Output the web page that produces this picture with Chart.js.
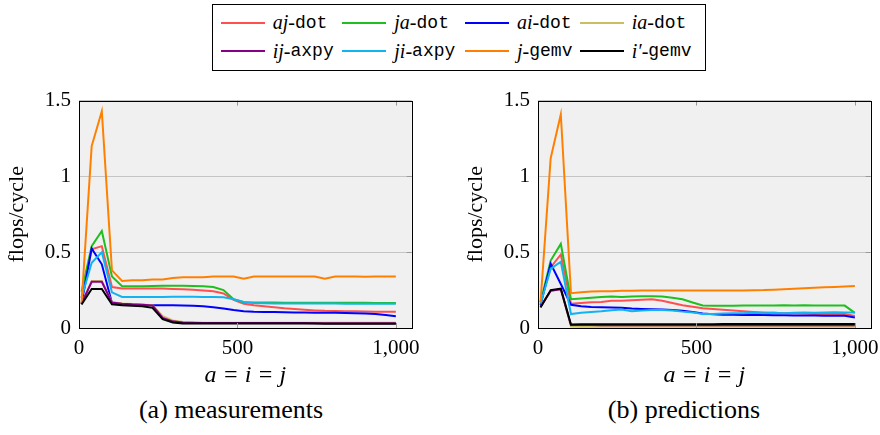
<!DOCTYPE html>
<html>
<head>
<meta charset="utf-8">
<script src="https://cdn.jsdelivr.net/npm/chart.js@4.4.0/dist/chart.umd.min.js"></script>
<style>
  body { margin: 0; background: #fff; width: 880px; height: 435px; position: relative; overflow: hidden; font-family: "Liberation Serif", serif; }
  #legend { position: absolute; left: 212px; top: 4px; width: 494px; height: 67px; border: 1px solid #000; box-sizing: border-box; }
  .item { position: absolute; height: 22px; display: flex; align-items: center; font-size: 20px; white-space: nowrap; }
  .item .swatch { display: inline-block; width: 44px; height: 0; border-top: 2px solid; margin-right: 8px; }
  .item i { font-family: "Liberation Serif", serif; }
  .item code { font-family: "Liberation Mono", monospace; font-size: 18px; }
  canvas { position: absolute; }
  .cap { position: absolute; top: 395px; font-size: 26px; transform: translateX(-50%); white-space: nowrap; }
</style>
</head>
<body>
<div id="legend"></div>
<canvas id="left" width="430" height="310" style="left:0px;top:80px"></canvas>
<canvas id="right" width="430" height="310" style="left:459px;top:80px"></canvas>
<div class="cap" style="left:231px">(a) measurements</div>
<div class="cap" style="left:684px">(b) predictions</div>
<script>
// problem size a = i = j
const sizes = [8, 40, 72, 104, 136, 168, 200, 232, 264, 296, 328, 360, 392, 424, 456, 488,
               520, 552, 584, 616, 648, 680, 712, 744, 776, 808, 840, 872, 904, 936, 968, 1000];

const loopNames = ["aj", "ja", "ai", "ia", "ij", "ji", "j", "i\u2032"];
const kernelNames = ["dot", "dot", "dot", "dot", "axpy", "axpy", "gemv", "gemv"];
const colors = ["#ff5050", "#1fbf1f", "#0000ff", "#cdbd62", "#880088", "#11b4f0", "#ff8000", "#000000"];

const xTicks = [0, 500, 1000];
const xTickLabels = ["0", "500", "1,000"];
const yTicks = [0, 0.5, 1, 1.5];
const yTickLabels = ["0", "0.5", "1", "1.5"];

// (a) measurements, flops/cycle
const mAjDot = [0.20, 0.52, 0.54, 0.27, 0.26, 0.26, 0.26, 0.26, 0.26, 0.258, 0.255, 0.252, 0.248, 0.242, 0.228, 0.185,
                0.16, 0.15, 0.143, 0.137, 0.13, 0.125, 0.12, 0.116, 0.113, 0.112, 0.11, 0.11, 0.109, 0.108, 0.108, 0.108];
const mJaDot = [0.24, 0.54, 0.64, 0.34, 0.275, 0.275, 0.276, 0.277, 0.278, 0.278, 0.278, 0.277, 0.275, 0.27, 0.25, 0.19,
                0.17, 0.168, 0.168, 0.168, 0.167, 0.167, 0.167, 0.167, 0.167, 0.166, 0.166, 0.166, 0.166, 0.165, 0.165, 0.165];
const mAiDot = [0.16, 0.525, 0.42, 0.165, 0.157, 0.153, 0.152, 0.15, 0.15, 0.15, 0.149, 0.147, 0.143, 0.137, 0.128, 0.118,
                0.11, 0.107, 0.106, 0.105, 0.104, 0.103, 0.102, 0.101, 0.1, 0.1, 0.099, 0.098, 0.096, 0.093, 0.085, 0.077];
const mIaDot = [0.16, 0.31, 0.31, 0.17, 0.162, 0.158, 0.155, 0.15, 0.078, 0.05, 0.04, 0.036, 0.035, 0.035, 0.034, 0.034,
                0.034, 0.034, 0.034, 0.034, 0.034, 0.034, 0.034, 0.034, 0.034, 0.034, 0.034, 0.034, 0.034, 0.034, 0.034, 0.034];
const mIjAxpy = [0.16, 0.305, 0.305, 0.168, 0.16, 0.156, 0.154, 0.148, 0.066, 0.044, 0.036, 0.034, 0.033, 0.033, 0.033, 0.033,
                 0.033, 0.033, 0.033, 0.033, 0.033, 0.033, 0.033, 0.032, 0.032, 0.032, 0.032, 0.032, 0.032, 0.032, 0.032, 0.032];
const mJiAxpy = [0.20, 0.43, 0.50, 0.235, 0.205, 0.205, 0.205, 0.205, 0.205, 0.206, 0.206, 0.206, 0.205, 0.205, 0.203, 0.19,
                 0.172, 0.165, 0.163, 0.162, 0.162, 0.162, 0.161, 0.161, 0.161, 0.161, 0.16, 0.16, 0.16, 0.16, 0.16, 0.16];
const mJGemv = [0.16, 1.20, 1.43, 0.38, 0.31, 0.315, 0.315, 0.32, 0.32, 0.33, 0.335, 0.335, 0.335, 0.34, 0.34, 0.34,
                0.325, 0.34, 0.34, 0.34, 0.34, 0.34, 0.34, 0.34, 0.325, 0.34, 0.34, 0.34, 0.338, 0.34, 0.34, 0.34];
const mIpGemv = [0.155, 0.257, 0.257, 0.157, 0.15, 0.147, 0.143, 0.133, 0.058, 0.036, 0.03, 0.029, 0.029, 0.029, 0.029, 0.029,
                 0.029, 0.029, 0.029, 0.029, 0.029, 0.029, 0.029, 0.029, 0.028, 0.028, 0.028, 0.028, 0.028, 0.028, 0.028, 0.028];

// (b) predictions, flops/cycle
const pAjDot = [0.17, 0.40, 0.485, 0.16, 0.165, 0.17, 0.172, 0.18, 0.18, 0.183, 0.187, 0.19, 0.18, 0.165, 0.15, 0.14,
                0.13, 0.125, 0.12, 0.115, 0.11, 0.106, 0.103, 0.1, 0.098, 0.097, 0.095, 0.093, 0.092, 0.092, 0.092, 0.08];
const pJaDot = [0.17, 0.445, 0.555, 0.19, 0.195, 0.2, 0.205, 0.207, 0.205, 0.207, 0.21, 0.21, 0.208, 0.2, 0.19, 0.168,
                0.148, 0.147, 0.147, 0.147, 0.148, 0.148, 0.149, 0.149, 0.15, 0.149, 0.15, 0.149, 0.148, 0.148, 0.148, 0.10];
const pAiDot = [0.15, 0.425, 0.29, 0.153, 0.143, 0.139, 0.137, 0.135, 0.133, 0.128, 0.126, 0.124, 0.122, 0.118, 0.114, 0.106,
                0.095, 0.09, 0.088, 0.087, 0.086, 0.085, 0.085, 0.084, 0.084, 0.083, 0.083, 0.082, 0.081, 0.08, 0.08, 0.07];
const pIaDot = [0.14, 0.245, 0.255, 0.01, 0.009, 0.009, 0.009, 0.009, 0.008, 0.008, 0.008, 0.008, 0.008, 0.008, 0.008, 0.008,
                0.008, 0.008, 0.008, 0.008, 0.008, 0.008, 0.008, 0.008, 0.008, 0.008, 0.008, 0.008, 0.008, 0.008, 0.008, 0.008];
const pIjAxpy = [0.14, 0.245, 0.255, 0.02, 0.019, 0.019, 0.018, 0.018, 0.018, 0.018, 0.018, 0.018, 0.018, 0.018, 0.018, 0.018,
                 0.018, 0.018, 0.018, 0.018, 0.018, 0.018, 0.018, 0.018, 0.018, 0.018, 0.018, 0.018, 0.018, 0.018, 0.018, 0.018];
const pJiAxpy = [0.16, 0.39, 0.437, 0.092, 0.1, 0.105, 0.11, 0.117, 0.122, 0.11, 0.115, 0.118, 0.118, 0.115, 0.108, 0.103,
                 0.093, 0.092, 0.095, 0.097, 0.098, 0.1, 0.098, 0.1, 0.097, 0.1, 0.102, 0.1, 0.103, 0.104, 0.103, 0.103];
const pJGemv = [0.17, 1.12, 1.41, 0.23, 0.236, 0.24, 0.242, 0.243, 0.245, 0.246, 0.247, 0.247, 0.247, 0.247, 0.247, 0.247,
                0.247, 0.247, 0.247, 0.247, 0.248, 0.249, 0.25, 0.253, 0.256, 0.259, 0.262, 0.265, 0.268, 0.271, 0.274, 0.277];
const pIpGemv = [0.135, 0.25, 0.26, 0.023, 0.024, 0.024, 0.024, 0.025, 0.025, 0.025, 0.025, 0.025, 0.025, 0.025, 0.025, 0.025,
                 0.025, 0.025, 0.026, 0.026, 0.026, 0.026, 0.026, 0.026, 0.026, 0.026, 0.026, 0.026, 0.026, 0.026, 0.026, 0.026];

const measured = [mAjDot, mJaDot, mAiDot, mIaDot, mIjAxpy, mJiAxpy, mJGemv, mIpGemv];
const predicted = [pAjDot, pJaDot, pAiDot, pIaDot, pIjAxpy, pJiAxpy, pJGemv, pIpGemv];

// legend (shared by both plots)
const legendCols = [7.7, 129.3, 252, 366.7];
const legendRows = [6.7, 35];
const legend = document.getElementById("legend");
loopNames.forEach((name, i) => {
  const el = document.createElement("div");
  el.className = "item";
  el.style.left = legendCols[i % 4] + "px";
  el.style.top = legendRows[Math.floor(i / 4)] + "px";
  el.innerHTML = `<span class="swatch" style="border-color:${colors[i]}"></span><i>${name}</i>-<code>${kernelNames[i]}</code>`;
  legend.appendChild(el);
});

const serif = "'Liberation Serif', serif";

// grey plot background, black frame and small inner tick marks like pgfplots
const frame = {
  id: "frame",
  beforeDraw(chart) {
    const { ctx, chartArea: a } = chart;
    ctx.save();
    ctx.fillStyle = "#f0f0f0";
    ctx.fillRect(a.left, a.top, a.right - a.left, a.bottom - a.top);
    ctx.restore();
  },
  afterDraw(chart) {
    const { ctx, chartArea: a } = chart;
    const xs = chart.scales.x, ys = chart.scales.y;
    ctx.save();
    ctx.strokeStyle = "#999";
    ctx.lineWidth = 1;
    ctx.beginPath();
    xTicks.slice(1).forEach(v => {
      const px = Math.round(xs.getPixelForValue(v)) + 0.5;
      ctx.moveTo(px, a.top); ctx.lineTo(px, a.top + 5);
      ctx.moveTo(px, a.bottom); ctx.lineTo(px, a.bottom - 5);
    });
    yTicks.slice(1).forEach(v => {
      const py = Math.round(ys.getPixelForValue(v)) + 0.5;
      ctx.moveTo(a.right, py); ctx.lineTo(a.right - 5, py);
    });
    ctx.stroke();
    ctx.strokeStyle = "#000";
    ctx.strokeRect(Math.round(a.left) + 0.5, Math.round(a.top) + 0.5,
                   Math.round(a.right - a.left), Math.round(a.bottom - a.top));
    ctx.restore();
  }
};

function makeChart(id, series) {
  return new Chart(document.getElementById(id), {
    type: "line",
    data: {
      datasets: series.map((vals, i) => ({
        label: loopNames[i] + "-" + kernelNames[i],
        data: sizes.map((x, k) => ({ x: x, y: vals[k] })),
        borderColor: colors[i],
        borderWidth: 2,
        pointRadius: 0,
        tension: 0,
        fill: false,
        order: series.length - i
      }))
    },
    options: {
      responsive: false,
      animation: false,
      events: [],
      layout: { padding: { top: 6, right: 18.3, left: 0, bottom: 0 } },
      plugins: { legend: { display: false }, tooltip: { enabled: false } },
      scales: {
        x: {
          type: "linear", min: 0, max: 1050,
          afterBuildTicks: s => { s.ticks = xTicks.map(v => ({ value: v })); },
          afterFit: s => { s.height = 62; },
          ticks: { callback: (v, i) => xTickLabels[i], padding: 1, color: "#000", maxRotation: 0, autoSkip: false,
                   font: { family: serif, size: 21, lineHeight: 1.1 } },
          grid: { display: false },
          border: { display: false },
          title: { display: true, text: "a = i = j", color: "#000", padding: { top: 0, bottom: 1 },
                   font: { family: serif, size: 24, style: "italic", lineHeight: 1.1 } }
        },
        y: {
          min: 0, max: 1.5,
          afterBuildTicks: s => { s.ticks = yTicks.map(v => ({ value: v })); },
          afterFit: s => { s.width = 79; },
          ticks: { callback: (v, i) => yTickLabels[i], padding: 8, color: "#000",
                   font: { family: serif, size: 21 } },
          grid: { color: "#c4c4c4", lineWidth: 1, drawTicks: false },
          border: { display: false },
          title: { display: true, text: "flops/cycle", color: "#000", padding: { top: 5, bottom: 0 },
                   font: { family: serif, size: 22, lineHeight: 1.1 } }
        }
      }
    },
    plugins: [frame]
  });
}

makeChart("left", measured);
makeChart("right", predicted);
</script>
</body>
</html>
